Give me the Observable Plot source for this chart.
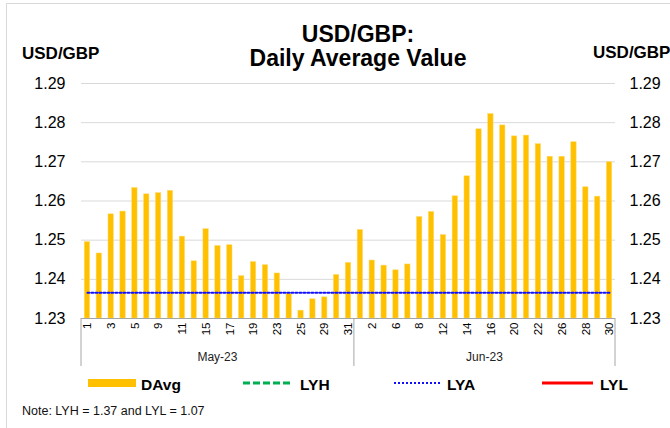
<!DOCTYPE html>
<html><head><meta charset="utf-8">
<script src="https://cdn.jsdelivr.net/npm/d3@7"></script>
<script src="https://cdn.jsdelivr.net/npm/@observablehq/plot@0.6"></script>
<style>
body{margin:0;background:#fff;font-family:"Liberation Sans",Arial,sans-serif;}
#wrap{position:relative;width:670px;height:428px;overflow:hidden;background:#fff;}
#frame{position:absolute;left:6px;top:3px;width:720px;height:470px;border:1px solid #d9d9d9;box-sizing:border-box;}
#chart{position:absolute;left:0;top:0;}
#overlay{position:absolute;left:0;top:0;pointer-events:none;}
</style></head>
<body>
<div id="wrap"><div id="frame"></div><div id="chart"></div>
<svg id="overlay" width="670" height="428" font-family="Liberation Sans, Arial, sans-serif">
  <text x="358" y="42" text-anchor="middle" font-size="23" font-weight="bold">USD/GBP:</text>
  <text x="358" y="65.5" text-anchor="middle" font-size="23" font-weight="bold">Daily Average Value</text>
  <text x="22" y="58.5" font-size="17" font-weight="bold">USD/GBP</text>
  <text x="593" y="57.5" font-size="17" font-weight="bold">USD/GBP</text>
  <g id="legend"></g>
  <text x="22" y="415" font-size="12.5" fill="#111">Note: LYH = 1.37 and LYL = 1.07</text>
</svg>
</div>
<script>
// ---- data ----
const mayDays = [1,2,3,4,5,8,9,10,11,12,15,16,17,18,19,22,23,24,25,26,29,30,31];
const mayVals = [1.2495,1.2466,1.2566,1.2573,1.2633,1.2617,1.2620,1.2626,1.2509,1.2446,1.2528,1.2485,1.2487,1.2408,1.2444,1.2436,1.2415,1.2363,1.2320,1.2349,1.2354,1.2411,1.2442];
const junDays = [1,2,5,6,7,8,9,12,13,14,15,16,19,20,21,22,23,26,27,28,29,30];
const junVals = [1.2526,1.2448,1.2435,1.2423,1.2438,1.2559,1.2572,1.2513,1.2612,1.2663,1.2783,1.2822,1.2793,1.2765,1.2767,1.2745,1.2713,1.2713,1.2750,1.2635,1.2611,1.2699];
const months = ["May-23","Jun-23"];
const lyaValue = 1.2366;
const lyhValue = 1.37;
const lylValue = 1.07;
const yTicks = [1.23,1.24,1.25,1.26,1.27,1.28,1.29];
const legendLabels = ["DAvg","LYH","LYA","LYL"];

// ---- table ----
const data = [
  ...mayDays.map((d,i)=>({key:`May-${d}`, day:d, month:months[0], value:mayVals[i]})),
  ...junDays.map((d,i)=>({key:`Jun-${d}`, day:d, month:months[1], value:junVals[i]}))
];
const keys = data.map(d=>d.key);
const tickKeys = keys.filter((k,i)=>i%2===0);
const base = yTicks[0];

const chart = Plot.plot({
  width:670, height:428,
  marginTop:83, marginLeft:81, marginRight:55, marginBottom:110,
  style:{fontFamily:"Liberation Sans, Arial, sans-serif", color:"#000", background:"transparent"},
  x:{domain:keys, paddingInner:0.55, paddingOuter:0.275, axis:null},
  y:{domain:[yTicks[0], yTicks[yTicks.length-1]], axis:null},
  marks:[
    Plot.ruleY(yTicks.slice(1), {stroke:"#d9d9d9", strokeWidth:1}),
    Plot.barY(data, {x:"key", y1:()=>base, y2:"value", fill:"#FFC000", stroke:"#FFD966", strokeWidth:0.5}),
    Plot.lineY(data, {x:"key", y:()=>lyhValue, stroke:"#00B050", strokeWidth:3, strokeDasharray:"7,3", clip:true}),
    Plot.lineY(data, {x:"key", y:()=>lylValue, stroke:"#FF0000", strokeWidth:3, clip:true}),
    Plot.lineY(data, {x:"key", y:()=>lyaValue, stroke:"#1010FF", strokeWidth:2, strokeDasharray:"2,2"}),
    Plot.ruleY([base], {stroke:"#a6a6a6", strokeWidth:1}),
    Plot.axisY(yTicks, {anchor:"left", tickSize:0, tickPadding:16, fontSize:16, tickFormat:d=>d.toFixed(2), label:null}),
    Plot.axisY(yTicks, {anchor:"right", tickSize:0, tickPadding:14, fontSize:16, tickFormat:d=>d.toFixed(2), label:null}),
    Plot.axisX(tickKeys, {anchor:"bottom", tickSize:0, tickPadding:4, tickRotate:-90, fontSize:11.5, tickFormat:k=>k.split("-")[1], label:null})
  ]
});
document.getElementById("chart").appendChild(chart);

// ---- month group separators and labels using the Plot scales ----
const xs = chart.scale("x");
const ys = chart.scale("y");
const half = (xs.step - xs.bandwidth)/2;
const yBase = ys.apply(base);
const svg = d3.select(chart);
const g = svg.append("g");
const bounds = [];
months.forEach(m=>{
  const mk = data.filter(d=>d.month===m).map(d=>d.key);
  const x0 = xs.apply(mk[0]) - half;
  const x1 = xs.apply(mk[mk.length-1]) + xs.bandwidth + half;
  bounds.push(x0, x1);
  g.append("text").attr("x",(x0+x1)/2).attr("y",yBase+43).attr("text-anchor","middle")
   .attr("font-size",12).attr("fill","#222").text(m);
});
[...new Set(bounds.map(b=>Math.round(b*10)/10))].forEach(b=>{
  g.append("line").attr("x1",b).attr("x2",b).attr("y1",yBase).attr("y2",yBase+48)
   .attr("stroke","#a6a6a6").attr("stroke-width",1);
});

// ---- legend ----
const lg = d3.select("#legend");
const items = [
  {x:88, w:48, kind:"bar", color:"#FFC000"},
  {x:243, w:50, kind:"line", color:"#00B050", dash:"7,3", sw:3},
  {x:394, w:46, kind:"line", color:"#1010FF", dash:"2,2", sw:2},
  {x:542, w:51, kind:"line", color:"#FF0000", dash:null, sw:3}
];
items.forEach((it,i)=>{
  if(it.kind==="bar"){
    lg.append("rect").attr("x",it.x).attr("y",379).attr("width",it.w).attr("height",8).attr("fill",it.color);
  } else {
    const l = lg.append("line").attr("x1",it.x).attr("x2",it.x+it.w).attr("y1",383).attr("y2",383)
      .attr("stroke",it.color).attr("stroke-width",it.sw);
    if(it.dash) l.attr("stroke-dasharray",it.dash);
  }
  lg.append("text").attr("x",it.x+it.w+(i===0?5:7)).attr("y",389.5).attr("font-size",15.5)
    .attr("font-weight","bold").text(legendLabels[i]);
});
</script>
</body></html>
